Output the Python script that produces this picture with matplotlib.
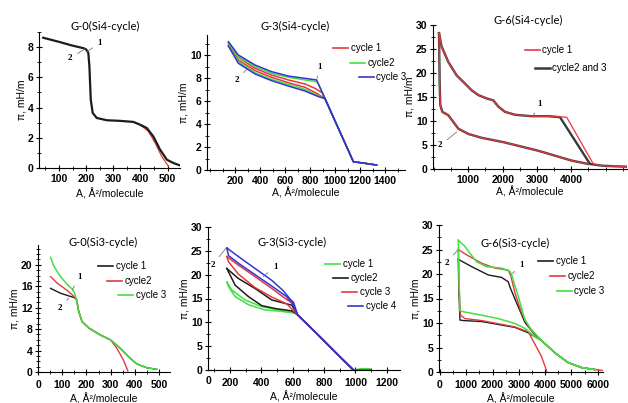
import matplotlib
matplotlib.use("Agg")
import matplotlib.pyplot as plt
from matplotlib.lines import Line2D
from matplotlib.legend import Legend
from matplotlib.ticker import MultipleLocator

plt.rcParams['font.family'] = ['Liberation Sans', 'DejaVu Sans']

RED = "#e5393e"
GREEN = "#41e041"
BLUE = "#3434d4"
BLACK = "#1c1c1c"
GRAY = "#3a3a3a"

# ---------- G-0(Si4-cycle) ----------
g0s4_x = [42, 104, 147, 190, 200, 208, 212, 217, 224, 239, 276, 325, 374, 398, 423, 447, 472, 497, 521, 544]
g0s4_y = [8.62, 8.33, 8.11, 7.93, 7.85, 7.62, 6.74, 4.53, 3.65, 3.31, 3.16, 3.12, 3.05, 2.87, 2.65, 2.10, 1.22, 0.55, 0.33, 0.18]
g0s4_red_x = [398, 429, 454, 478, 503]
g0s4_red_y = [2.87, 2.43, 1.66, 0.77, 0.11]

# ---------- G-3(Si4-cycle) ----------
g3s4_desc_x = [1000, 1080, 1147, 1240, 1333]
g3s4_desc_y = [4.27, 2.34, 0.72, 0.58, 0.43]
g3s4_c3_up_x = [147, 227, 360, 493, 627, 760, 853]
g3s4_c3_up_y = [11.16, 10.0, 9.13, 8.55, 8.17, 7.97, 7.83]
g3s4_c2_up_x = [147, 227, 360, 493, 627, 760, 853, 870]
g3s4_c2_up_y = [11.07, 9.86, 8.99, 8.41, 8.06, 7.83, 7.68, 7.42]
g3s4_c1_up_x = [147, 227, 360, 493, 627, 760, 840, 900]
g3s4_c1_up_y = [10.99, 9.8, 8.84, 8.26, 7.83, 7.48, 7.10, 6.69]
g3s4_c1_lo_x = [147, 227, 360, 493, 627, 760, 853, 920]
g3s4_c1_lo_y = [10.8, 9.57, 8.64, 8.06, 7.59, 7.19, 6.67, 6.21]
g3s4_c2_lo_x = [147, 227, 360, 493, 627, 760, 853, 920]
g3s4_c2_lo_y = [10.8, 9.42, 8.46, 7.88, 7.45, 7.01, 6.52, 6.21]
g3s4_c3_lo_x = [147, 227, 360, 493, 627, 760, 867, 920]
g3s4_c3_lo_y = [10.78, 9.28, 8.35, 7.77, 7.30, 6.87, 6.38, 6.21]

# ---------- G-6(Si4-cycle) ----------
g6s4_up_x = [146, 223, 417, 660, 903, 1097, 1291, 1534, 1728, 1874, 2068, 2359, 2845, 3330]
g6s4_up_y = [28.3, 25.5, 22.3, 19.5, 17.8, 16.4, 15.4, 14.7, 14.3, 13.0, 11.9, 11.3, 11.0, 11.0]
g6s4_c23_kink_x = [3670, 4544]
g6s4_c1_kink_x = [3864, 4641]
g6s4_kink_y = [10.8, 1.05]
g6s4_tail_x = [4883, 5272, 5600]
g6s4_tail_y = [0.7, 0.56, 0.49]
g6s4_lo_x = [146, 165, 184, 243, 417, 709, 1000, 1388, 2019, 3039, 4010, 4495]
g6s4_lo_y = [28.3, 17.8, 13.3, 11.9, 11.2, 8.4, 7.3, 6.5, 5.6, 3.8, 1.75, 1.05]

# ---------- G-0(Si3-cycle) ----------
g0s3_desc_x = [159, 168, 182, 210, 258, 299, 333, 381, 408, 449, 490]
g0s3_desc_y = [13.5, 11.3, 9.4, 8.2, 6.9, 6.0, 4.7, 2.55, 1.5, 0.8, 0.5]
g0s3_c1_x = [52, 93, 134, 150]
g0s3_c1_y = [15.6, 14.7, 14.1, 13.9]
g0s3_c2_x = [52, 79, 121, 141, 150]
g0s3_c2_y = [17.8, 16.6, 15.2, 14.4, 14.0]
g0s3_c2_end_x = [326, 353, 371]
g0s3_c2_end_y = [4.4, 2.2, 0.2]
g0s3_c3_x = [52, 66, 93, 121, 141, 151]
g0s3_c3_y = [21.4, 19.7, 17.8, 16.3, 15.5, 14.7]

# ---------- G-3(Si3-cycle) ----------
g3s3_desc_x = [630, 720, 800, 900, 987]
g3s3_desc_y = [11.6, 8.7, 6.1, 2.8, 0.0]
g3s3_c4_up_x = [179, 253, 359, 466, 540, 585, 605]
g3s3_c4_up_y = [25.6, 23.8, 21.3, 18.8, 16.6, 14.8, 14.2]
g3s3_c4_lo_x = [179, 190, 253, 359, 466, 560, 600]
g3s3_c4_lo_y = [25.6, 24.0, 22.4, 20.0, 17.6, 15.4, 13.8]
g3s3_c3_up_x = [179, 253, 359, 466, 560, 600]
g3s3_c3_up_y = [23.8, 22.0, 19.6, 17.1, 14.8, 14.0]
g3s3_c3_lo_x = [179, 190, 253, 359, 466, 560]
g3s3_c3_lo_y = [23.8, 22.7, 20.1, 17.3, 15.3, 13.9]
g3s3_c2_up_x = [179, 253, 359, 466, 594]
g3s3_c2_up_y = [21.3, 19.2, 17.1, 14.7, 13.6]
g3s3_c2_lo_x = [179, 232, 317, 402, 487, 594]
g3s3_c2_lo_y = [21.3, 17.8, 15.4, 13.5, 12.9, 12.4]
g3s3_c1_up_x = [179, 210, 295, 402, 508, 604]
g3s3_c1_up_y = [18.5, 16.8, 14.7, 13.3, 12.6, 12.2]
g3s3_c1_lo_x = [179, 190, 232, 317, 423, 529, 615]
g3s3_c1_lo_y = [18.5, 17.5, 15.4, 13.7, 12.6, 12.3, 11.9]
g3s3_tail_c1_x = [987, 1040, 1093]
g3s3_tail_c1_y = [0.0, 0.3, 0.25]
g3s3_tail_c4_x = [987, 1093]
g3s3_tail_c4_y = [0.0, 0.0]

# ---------- G-6(Si3-cycle) ----------
g6s3_tail_x = [3866, 4373, 4879, 5387, 5894]
g6s3_tail_y = [6.4, 3.9, 1.9, 0.9, 0.5]
g6s3_c3_up_x = [696, 950, 1140, 1394, 1774, 2345, 2662, 2725, 2978, 3232, 3485]
g6s3_c3_up_y = [26.9, 25.6, 24.2, 22.5, 21.5, 21.2, 20.5, 19.8, 15.4, 10.6, 8.6]
g6s3_c2_up_x = [696, 1014, 1584, 2091, 2598, 2700, 2852, 3106, 3400]
g6s3_c2_up_y = [25.0, 23.9, 22.2, 21.2, 20.8, 19.5, 16.1, 12.0, 9.0]
g6s3_c1_up_x = [696, 1204, 1837, 2345, 2598, 2662, 2978, 3232, 3549]
g6s3_c1_up_y = [23.0, 21.5, 19.8, 19.3, 18.4, 17.3, 13.3, 10.1, 8.0]
g6s3_c3_lo_x = [696, 720, 760, 886, 1584, 2218, 2852, 3232, 3612]
g6s3_c3_lo_y = [26.9, 20.0, 12.5, 12.3, 11.6, 10.9, 9.9, 8.9, 7.2]
g6s3_c2_lo_x = [696, 720, 780, 950, 1584, 2852, 3359, 3866, 4057]
g6s3_c2_lo_y = [25.0, 18.0, 11.6, 10.9, 10.5, 9.2, 8.2, 3.1, 0.2]
g6s3_c1_lo_x = [696, 720, 760, 886, 1584, 2852, 3359]
g6s3_c1_lo_y = [23.0, 16.0, 10.6, 10.5, 10.3, 9.1, 8.0]
g6s3_c2_end_x = [5894, 6200]
g6s3_c2_end_y = [0.5, 0.3]

W, H = 628, 403
fig = plt.figure(figsize=(6.28, 4.03), dpi=100)


def box(l, r, t, b):
    return [l / W, 1 - b / H, (r - l) / W, (b - t) / H]


def style(ax, xmaj, xmin, ymaj, ymin, xlim, ylim, xticks, lpad, tpad=2):
    ax.spines["top"].set_visible(False)
    ax.spines["right"].set_visible(False)
    ax.set_xlim(*xlim)
    ax.set_ylim(*ylim)
    ax.xaxis.set_major_locator(MultipleLocator(xmaj))
    ax.xaxis.set_minor_locator(MultipleLocator(xmin))
    ax.yaxis.set_major_locator(MultipleLocator(ymaj))
    ax.yaxis.set_minor_locator(MultipleLocator(ymin))
    if xticks is not None:
        ax.set_xticks(xticks)
    ax.tick_params(which="major", direction="inout", length=4, width=0.8, labelsize=7.5, pad=2)
    ax.tick_params(axis="x", which="major", pad=tpad)
    ax.tick_params(which="minor", direction="inout", length=2.5, width=0.6)
    for lab in ax.get_xticklabels() + ax.get_yticklabels():
        lab.set_fontweight("bold")
    ax.set_xlabel("A, Å²/molecule", fontsize=7.5, labelpad=lpad)
    ax.set_ylabel("π, mH/m", fontsize=7.5, labelpad=1)


def title(x, y, s):
    fig.text(x / W, 1 - y / H, s, fontsize=8, family=["Lato", "DejaVu Sans"],
             ha="center", va="center")


def entry(ax, color, label, x, y, hl=1.5, lw=1.2):
    h = Line2D([], [], color=color, lw=lw)
    leg = Legend(ax, [h], [label], loc="center left", bbox_to_anchor=(x / W, 1 - y / H),
                 bbox_transform=fig.transFigure, frameon=False, fontsize=7,
                 handlelength=hl, handletextpad=0.3, borderpad=0, borderaxespad=0)
    ax.add_artist(leg)


def mark(ax, s, xy, xytext):
    ax.annotate(s, xy=xy, xytext=xytext, fontsize=6.5, fontweight="bold",
                family=["Liberation Serif", "DejaVu Serif"], ha="center", va="center",
                arrowprops=dict(arrowstyle="-", color="#777777", lw=0.6, shrinkA=2, shrinkB=0))


# panel 1
ax1 = fig.add_axes(box(39, 180, 32, 168))
ax1.plot(g0s4_red_x, g0s4_red_y, color=RED, lw=0.9)
ax1.plot(g0s4_x, g0s4_y, color=BLACK, lw=1.6)
style(ax1, 100, 50, 2, 1, (26.5, 545.5), (0, 9.0), None, 3)
title(105, 26, "G-0(Si4-cycle)")
mark(ax1, "1", (204, 7.7), (251, 8.3))
mark(ax1, "2", (196, 7.9), (141, 7.25))

# panel 2
ax2 = fig.add_axes(box(207, 405, 35, 170))
for ux, uy, lx, ly, c in [
    (g3s4_c1_up_x, g3s4_c1_up_y, g3s4_c1_lo_x, g3s4_c1_lo_y, RED),
    (g3s4_c2_up_x, g3s4_c2_up_y, g3s4_c2_lo_x, g3s4_c2_lo_y, GREEN),
    (g3s4_c3_up_x, g3s4_c3_up_y, g3s4_c3_lo_x, g3s4_c3_lo_y, BLUE),
]:
    ax2.plot(ux + g3s4_desc_x, uy + g3s4_desc_y, color=c, lw=1.1)
    ax2.plot(lx + g3s4_desc_x, ly + g3s4_desc_y, color=c, lw=1.1)
style(ax2, 200, 100, 2, 1, (-24, 1560), (0, 11.74), [200, 400, 600, 800, 1000, 1200, 1400], 1)
title(295, 26, "G-3(Si4-cycle)")
mark(ax2, "1", (853, 7.83), (880, 8.98))
mark(ax2, "2", (293, 8.75), (213, 7.83))
entry(ax2, RED, "cycle 1", 333, 48)
entry(ax2, GREEN, "cycle2", 350, 63)
entry(ax2, BLUE, "cycle 3", 359, 77)

# panel 3
ax3 = fig.add_axes(box(433, 627, 25, 169))
ax3.plot(g6s4_up_x + g6s4_c23_kink_x + g6s4_tail_x, g6s4_up_y + g6s4_kink_y + g6s4_tail_y,
         color=GRAY, lw=1.7)
ax3.plot(g6s4_lo_x, g6s4_lo_y, color=GRAY, lw=1.7)
ax3.plot(g6s4_up_x + g6s4_c1_kink_x + g6s4_tail_x, g6s4_up_y + g6s4_kink_y + g6s4_tail_y,
         color=RED, lw=0.9)
ax3.plot(g6s4_lo_x, g6s4_lo_y, color=RED, lw=0.9)
style(ax3, 1000, 500, 5, 2.5, (-29, 5622), (0, 30), [1000, 2000, 3000, 4000], 1)
title(528, 20, "G-6(Si4-cycle)")
mark(ax3, "1", (2893, 11.2), (3087, 13.6))
mark(ax3, "2", (660, 7.7), (175, 4.9))
entry(ax3, RED, "cycle 1", 525, 50)
entry(ax3, GRAY, "cycle2 and 3", 535, 68, lw=1.8)

# panel 4
ax4 = fig.add_axes(box(38, 170, 245, 372))
ax4.plot(g0s3_c1_x + g0s3_desc_x, g0s3_c1_y + g0s3_desc_y, color=BLACK, lw=1.0)
ax4.plot(g0s3_c2_x + g0s3_desc_x[:6] + g0s3_c2_end_x, g0s3_c2_y + g0s3_desc_y[:6] + g0s3_c2_end_y,
         color=RED, lw=1.0)
ax4.plot(g0s3_c3_x + g0s3_desc_x, g0s3_c3_y + g0s3_desc_y, color=GREEN, lw=1.1)
style(ax4, 100, 50, 4, 1, (0, 545), (0, 23.7), None, 2, tpad=4)
title(103, 242, "G-0(Si3-cycle)")
mark(ax4, "1", (141, 15.3), (173, 17.8))
mark(ax4, "2", (127, 13.8), (90, 11.9))
entry(ax4, BLACK, "cycle 1", 98, 266)
entry(ax4, RED, "cycle2", 107, 281)
entry(ax4, GREEN, "cycle 3", 118, 295)

# panel 5
ax5 = fig.add_axes(box(208, 400, 227, 370))
for ux, uy, lx, ly, c, tx, ty in [
    (g3s3_c1_up_x, g3s3_c1_up_y, g3s3_c1_lo_x, g3s3_c1_lo_y, GREEN, g3s3_tail_c1_x, g3s3_tail_c1_y),
    (g3s3_c2_up_x, g3s3_c2_up_y, g3s3_c2_lo_x, g3s3_c2_lo_y, BLACK, [], []),
    (g3s3_c3_up_x, g3s3_c3_up_y, g3s3_c3_lo_x, g3s3_c3_lo_y, RED, [], []),
    (g3s3_c4_up_x, g3s3_c4_up_y, g3s3_c4_lo_x, g3s3_c4_lo_y, BLUE, g3s3_tail_c4_x, g3s3_tail_c4_y),
]:
    ax5.plot(ux + g3s3_desc_x + tx, uy + g3s3_desc_y + ty, color=c, lw=1.1)
    ax5.plot(lx + g3s3_desc_x, ly + g3s3_desc_y, color=c, lw=1.1)
style(ax5, 200, 100, 5, 2.5, (59, 1284), (0, 30), [200, 400, 600, 800, 1000, 1200], 2, tpad=4)
ax5.text(0.0, -0.075, "0", transform=ax5.transAxes, fontsize=7.5, fontweight="bold",
         ha="center", va="center")
title(292, 242, "G-3(Si3-cycle)")
mark(ax5, "1", (412, 19.6), (487, 21.7))
mark(ax5, "2", (172, 25.5), (87, 22.0))
entry(ax5, GREEN, "cycle 1", 325, 264)
entry(ax5, BLACK, "cycle2", 333, 278)
entry(ax5, RED, "cycle 3", 342, 292)
entry(ax5, BLUE, "cycle 4", 348, 306)

# panel 6
ax6 = fig.add_axes(box(439, 603, 225, 372))
ax6.plot(g6s3_c1_up_x + g6s3_tail_x, g6s3_c1_up_y + g6s3_tail_y, color=BLACK, lw=1.0)
ax6.plot(g6s3_c1_lo_x + g6s3_tail_x, g6s3_c1_lo_y + g6s3_tail_y, color=BLACK, lw=1.0)
ax6.plot(g6s3_c2_up_x + g6s3_tail_x + g6s3_c2_end_x, g6s3_c2_up_y + g6s3_tail_y + g6s3_c2_end_y,
         color=RED, lw=1.0)
ax6.plot(g6s3_c2_lo_x, g6s3_c2_lo_y, color=RED, lw=1.0)
ax6.plot(g6s3_c3_up_x + g6s3_tail_x, g6s3_c3_up_y + g6s3_tail_y, color=GREEN, lw=1.1)
ax6.plot(g6s3_c3_lo_x + g6s3_tail_x, g6s3_c3_lo_y + g6s3_tail_y, color=GREEN, lw=1.1)
style(ax6, 1000, 500, 5, 2.5, (-38, 6200), (0, 30), None, 2, tpad=4)
title(515, 243, "G-6(Si3-cycle)")
mark(ax6, "1", (2726, 20.0), (3106, 21.8))
mark(ax6, "2", (673, 24.9), (253, 22.2))
entry(ax6, BLACK, "cycle 1", 538, 261)
entry(ax6, RED, "cycle2", 550, 276)
entry(ax6, GREEN, "cycle 3", 557, 291)

fig.savefig("out.png", dpi=100)
